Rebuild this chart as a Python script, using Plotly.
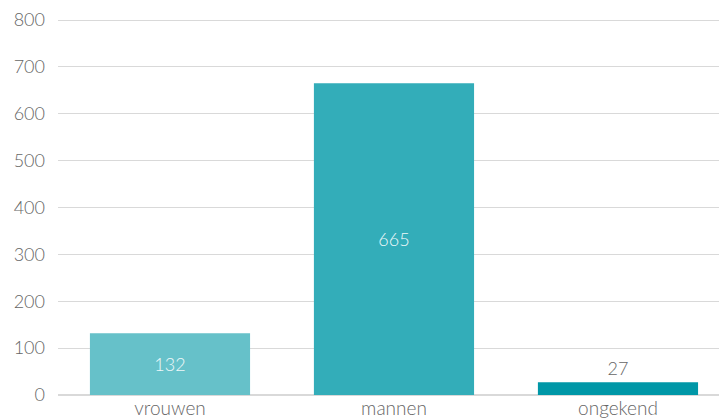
import plotly.graph_objects as go

categories = ["vrouwen", "mannen", "ongekend"]
values = [132, 665, 27]
colors = ["#66c1c9", "#33adb9", "#0097a7"]
text_positions = ["inside", "inside", "outside"]
text_colors = ["#eef8f9", "#eef8f9", "#666666"]

fig = go.Figure(go.Bar(
    x=categories, y=values, text=[str(v) for v in values],
    textposition=text_positions, insidetextanchor="middle",
    textfont=dict(color=text_colors, size=18, family="Lato", weight=300),
    marker=dict(color=colors, line=dict(width=0)),
    width=0.715, cliponaxis=False,
))
fig.update_layout(
    width=719, height=418,
    margin=dict(l=58, r=0, t=15, b=23, autoexpand=False),
    paper_bgcolor="white", plot_bgcolor="white",
    showlegend=False,
    font=dict(family="Lato", color="#666666", size=18, weight=300),
    xaxis=dict(range=[-0.5, 2.451], showgrid=False, showline=False, automargin=False,
               ticks="", tickfont=dict(size=19, color="#666666"), ticklabelstandoff=0),
    yaxis=dict(range=[0, 810.67], tickvals=[0, 100, 200, 300, 400, 500, 600, 700, 800],
               showgrid=True, gridcolor="#d9d9d9",
               zeroline=True, zerolinecolor="#d9d9d9", zerolinewidth=1.5, automargin=False,
               showline=False, ticks="", ticklabelstandoff=12,
               tickfont=dict(size=18, color="#666666")),
)
fig.write_html("out.html", config={"displayModeBar": False},
               post_script="document.body.style.margin='0px';")
